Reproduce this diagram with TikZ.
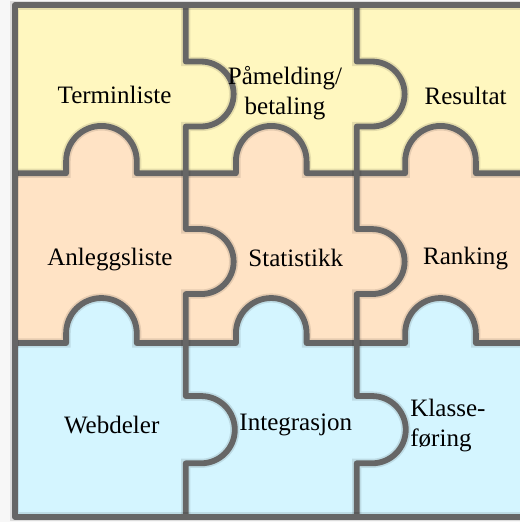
\documentclass[tikz,border=0pt]{standalone}
\usepackage{fontspec}
\setmainfont{Liberation Serif}
\usepackage{tikz}
\usetikzlibrary{positioning}
\definecolor{pieceyellow}{HTML}{FFF7BF}
\definecolor{piecepeach}{HTML}{FFE3C5}
\definecolor{pieceblue}{HTML}{D4F5FF}
\definecolor{pieceline}{HTML}{666666}
\tikzset{
    seam/.style={pieceline, line width=2.9pt, line join=round,
                 preaction={draw, black, opacity=0.10, line width=4.6pt}},
    piecetext/.style={font=\fontsize{12.5}{15}\selectfont, align=center, inner sep=1pt}
}

\begin{document}
\begin{tikzpicture}

  % Page area and light backdrop
  \useasboundingbox (-0.26,-0.09) rectangle (8.86,9.07);
  \fill[gray!6] (-0.26,-0.09) rectangle (8.86,9.07);

  % Top row of pieces
  \fill[pieceyellow] (0,6.03) rectangle (9,8.98);

  % Middle row with knobs reaching up
  \fill[piecepeach] (0,3.05) -- (0,6.03) -- (0.90,6.03)
        -- ++(0,0.21) arc[start angle=180, end angle=0, radius=0.62] -- ++(0,-0.21)
        -- (3.88,6.03)
        -- ++(0,0.21) arc[start angle=180, end angle=0, radius=0.62] -- ++(0,-0.21)
        -- (6.85,6.03)
        -- ++(0,0.21) arc[start angle=180, end angle=0, radius=0.62] -- ++(0,-0.21)
        -- (9,6.03) -- (9,3.05) -- cycle;

  % Bottom row with knobs reaching up
  \fill[pieceblue] (0,0) -- (0,3.05) -- (0.90,3.05)
        -- ++(0,0.17) arc[start angle=180, end angle=0, radius=0.62] -- ++(0,-0.17)
        -- (3.88,3.05)
        -- ++(0,0.17) arc[start angle=180, end angle=0, radius=0.62] -- ++(0,-0.17)
        -- (6.85,3.05)
        -- ++(0,0.17) arc[start angle=180, end angle=0, radius=0.62] -- ++(0,-0.17)
        -- (9,3.05) -- (9,0) -- cycle;

  % Horizontal seams
  \draw[seam] (0,6.03) -- (0.90,6.03)
        -- ++(0,0.21) arc[start angle=180, end angle=0, radius=0.62] -- ++(0,-0.21)
        -- (3.88,6.03)
        -- ++(0,0.21) arc[start angle=180, end angle=0, radius=0.62] -- ++(0,-0.21)
        -- (6.85,6.03)
        -- ++(0,0.21) arc[start angle=180, end angle=0, radius=0.62] -- ++(0,-0.21)
        -- (9,6.03);
  \draw[seam] (0,3.05) -- (0.90,3.05)
        -- ++(0,0.17) arc[start angle=180, end angle=0, radius=0.62] -- ++(0,-0.17)
        -- (3.88,3.05)
        -- ++(0,0.17) arc[start angle=180, end angle=0, radius=0.62] -- ++(0,-0.17)
        -- (6.85,3.05)
        -- ++(0,0.17) arc[start angle=180, end angle=0, radius=0.62] -- ++(0,-0.17)
        -- (9,3.05);

  % Vertical seams with knobs pointing right
  \draw[seam] (3,8.98) -- (3,7.99)
        -- ++(0.27,0) arc[start angle=90, end angle=-90, radius=0.57] -- ++(-0.27,0)
        -- (3,5.05)
        -- ++(0.27,0) arc[start angle=90, end angle=-90, radius=0.57] -- ++(-0.27,0)
        -- (3,2.12)
        -- ++(0.27,0) arc[start angle=90, end angle=-90, radius=0.59] -- ++(-0.27,0)
        -- (3,0);
  \draw[seam] (6,8.98) -- (6,7.99)
        -- ++(0.27,0) arc[start angle=90, end angle=-90, radius=0.57] -- ++(-0.27,0)
        -- (6,5.05)
        -- ++(0.27,0) arc[start angle=90, end angle=-90, radius=0.57] -- ++(-0.27,0)
        -- (6,2.12)
        -- ++(0.27,0) arc[start angle=90, end angle=-90, radius=0.59] -- ++(-0.27,0)
        -- (6,0);

  % Outer frame
  \draw[seam] (0,0) rectangle (9,8.98);

  % Piece labels
  \node[piecetext] (terminliste) at (1.75,7.40) {Terminliste};
  \node[piecetext] (pamelding)   at (4.74,7.44) {Påmelding/\\betaling};
  \node[piecetext] (resultat)    at (7.91,7.39) {Resultat};
  \node[piecetext] (anlegg)      at (1.67,4.51) {Anleggsliste};
  \node[piecetext] (statistikk)  at (4.93,4.54) {Statistikk};
  \node[piecetext] (ranking)     at (7.91,4.54) {Ranking};
  \node[piecetext] (webdeler)    at (1.70,1.61) {Webdeler};
  \node[piecetext] (integrasjon) at (4.93,1.61) {Integrasjon};
  \node[piecetext, align=left] (klasse) at (7.60,1.61) {Klasse-\\føring};

\end{tikzpicture}
\end{document}
